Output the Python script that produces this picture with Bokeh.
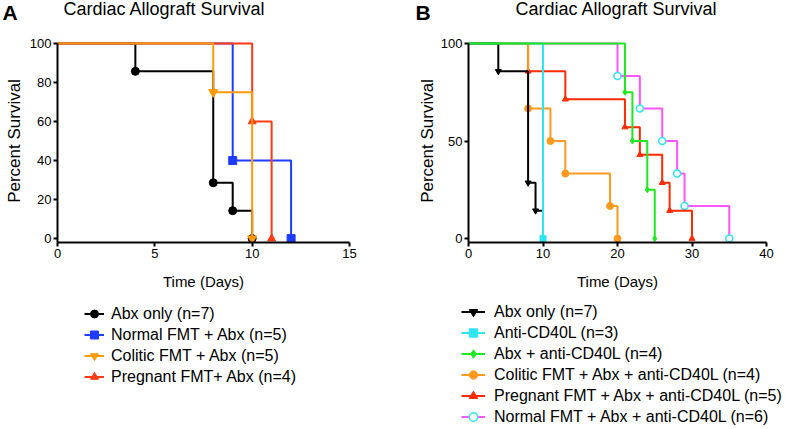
from bokeh.plotting import figure
from bokeh.models import FixedTicker, Legend, LegendItem, Label, Range1d
from bokeh.layouts import row, column
from bokeh.embed import file_html
from bokeh.resources import INLINE

FONT = "Liberation Sans"

# ---------------- Panel A data ----------------
a_xticks = [0, 5, 10, 15]
a_yticks = [0, 20, 40, 60, 80, 100]

a_abx_t = [0, 4, 8, 9, 10]
a_abx_s = [100, 85.7, 28.6, 14.3, 0]
a_normal_t = [0, 9, 12]
a_normal_s = [100, 40, 0]
a_colitic_t = [0, 8, 10]
a_colitic_s = [100, 75, 0]
a_preg_t = [0, 10, 11]
a_preg_s = [100, 60, 0]

# ---------------- Panel B data ----------------
b_xticks = [0, 10, 20, 30, 40]
b_yticks = [0, 50, 100]

b_abx_t = [0, 4, 8, 9, 10]
b_abx_s = [100, 85.7, 28.6, 14.3, 0]
b_anti_t = [0, 10]
b_anti_s = [100, 0]
b_abxanti_t = [0, 21, 22, 24, 25]
b_abxanti_s = [100, 75, 50, 25, 0]
b_col_t = [0, 8, 11, 13, 19, 20]
b_col_s = [100, 66.7, 50, 33.3, 16.7, 0]
b_preg_t = [0, 8, 13, 21, 23, 26, 27, 30]
b_preg_s = [100, 85.7, 71.4, 57.1, 42.9, 28.6, 14.3, 0]
b_norm_t = [0, 20, 23, 26, 28, 29, 35]
b_norm_s = [100, 83.3, 66.7, 50, 33.3, 16.7, 0]

title_text = "Cardiac Allograft Survival"
panel_letters = ["A", "B"]

a_labels = ["Abx only (n=7)", "Normal FMT + Abx (n=5)",
            "Colitic FMT + Abx (n=5)", "Pregnant FMT+ Abx (n=4)"]
b_labels = ["Abx only (n=7)", "Anti-CD40L (n=3)", "Abx + anti-CD40L (n=4)",
            "Colitic FMT + Abx + anti-CD40L (n=4)",
            "Pregnant FMT + Abx + anti-CD40L (n=5)",
            "Normal FMT + Abx + anti-CD40L (n=6)"]

WA, WB = 390, 395
STRIP_H = 35
PLOT_H = 259
LEG_H = 135


def blank_fig(width, height):
    p = figure(width=width, height=height, output_backend="svg", toolbar_location=None,
               x_range=Range1d(0, 1), y_range=Range1d(0, 1),
               x_axis_location=None, y_axis_location=None,
               min_border=0)
    p.outline_line_color = None
    p.xgrid.visible = False
    p.ygrid.visible = False
    return p


def plot_fig(width, left, right, xmax, xticks, yticks, ylab_size, ylab_standoff):
    p = figure(width=width, height=PLOT_H, output_backend="svg", toolbar_location=None,
               x_range=Range1d(0, xmax), y_range=Range1d(-2, 102),
               min_border_left=left, min_border_right=right,
               min_border_top=4, min_border_bottom=52)
    p.outline_line_color = None
    p.xgrid.visible = False
    p.ygrid.visible = False
    for ax in (p.xaxis[0], p.yaxis[0]):
        ax.axis_line_width = 2
        ax.axis_line_color = "black"
        ax.major_tick_line_width = 2
        ax.major_tick_line_color = "black"
        ax.major_tick_out = 4
        ax.major_tick_in = 0
        ax.minor_tick_line_color = None
        ax.major_label_text_font = FONT
        ax.major_label_text_font_size = "13px"
        ax.major_label_text_color = "black"
        ax.major_label_standoff = 2
        ax.axis_label_text_font = FONT
        ax.axis_label_text_font_style = "normal"
        ax.axis_label_text_color = "black"
    p.xaxis[0].ticker = FixedTicker(ticks=xticks)
    p.yaxis[0].ticker = FixedTicker(ticks=yticks)
    p.xaxis[0].bounds = (0, xmax)
    p.yaxis[0].bounds = (-2, 100)
    p.xaxis[0].axis_label = "Time (Days)"
    p.xaxis[0].axis_label_text_font_size = "15px"
    p.xaxis[0].axis_label_standoff = 12
    p.yaxis[0].axis_label = "Percent Survival"
    p.yaxis[0].axis_label_text_font_size = ylab_size
    p.yaxis[0].axis_label_standoff = ylab_standoff
    return p


def series(p, t, s, st, visible=True):
    ln = p.step(t, s, mode="after", line_width=2, line_color=st["color"])
    sc = p.scatter(t[1:], s[1:], marker=st["marker"], size=st["size"],
                   fill_color=st.get("fill", st["color"]),
                   line_color=st.get("mline", st["color"]), line_width=st.get("mlw", 1.0))
    ln.visible = visible
    sc.visible = visible
    return [ln, sc]


def legend_fig(width, labels, data, styles, loc, gw, standoff):
    p = blank_fig(width, LEG_H)
    items = []
    for lab, (t, s), st in zip(labels, data, styles):
        rs = series(p, t, s, st, visible=False)
        items.append(LegendItem(label=lab, renderers=rs))
    leg = Legend(items=items, location=loc, margin=0, padding=1, spacing=0,
                 label_text_font=FONT, label_text_font_size="16px", label_text_color="black",
                 glyph_width=gw, glyph_height=21, label_height=21, label_standoff=standoff,
                 background_fill_alpha=0, border_line_color=None)
    p.add_layout(leg, "center")
    return p


# styles
st_a = [dict(color="black", marker="circle", size=8),
        dict(color="#1E3CFF", marker="square", size=8),
        dict(color="#FF9A0A", marker="inverted_triangle", size=9),
        dict(color="#FF3A14", marker="triangle", size=8)]
st_b = [dict(color="black", marker="inverted_triangle", size=6),
        dict(color="#2EE6EE", marker="square", size=6),
        dict(color="#1EE81E", marker="diamond", size=6),
        dict(color="#FF9A1E", marker="circle", size=7),
        dict(color="#FF2A00", marker="triangle", size=6),
        dict(color="#FF55FF", marker="circle", size=7, fill="white", mline="#2EE6F0", mlw=1.5)]

# ---------------- top strip (panel letters + titles) ----------------
strip = blank_fig(WA + WB, STRIP_H)
for x, txt in [(2, panel_letters[0]), (415, panel_letters[1])]:
    strip.add_layout(Label(x=x, y=STRIP_H, x_units="screen", y_units="screen", text=txt,
                           text_font=FONT, text_font_size="21px", text_font_style="bold",
                           text_color="black", text_baseline="top", text_align="left"))
strip.add_layout(Label(x=63, y=STRIP_H + 2, x_units="screen", y_units="screen", text=title_text,
                       text_font=FONT, text_font_size="18px", text_color="black",
                       text_baseline="top", text_align="left"))
strip.add_layout(Label(x=616, y=STRIP_H + 2, x_units="screen", y_units="screen", text=title_text,
                       text_font=FONT, text_font_size="18px", text_color="black",
                       text_baseline="top", text_align="center"))

# ---------------- Panel A ----------------
pa = plot_fig(WA, 57, 41, 15, a_xticks, a_yticks, "17px", 3)
series(pa, a_abx_t, a_abx_s, st_a[0])
series(pa, a_normal_t, a_normal_s, st_a[1])
series(pa, a_preg_t, a_preg_s, st_a[3])
series(pa, a_colitic_t, a_colitic_s, st_a[2])

# ---------------- Panel B ----------------
pb = plot_fig(WB, 78, 19, 40, b_xticks, b_yticks, "17px", 1)
series(pb, b_norm_t, b_norm_s, st_b[5])
series(pb, b_preg_t, b_preg_s, st_b[4])
series(pb, b_col_t, b_col_s, st_b[3])
series(pb, b_abx_t, b_abx_s, st_b[0])
series(pb, b_anti_t, b_anti_s, st_b[1])
series(pb, b_abxanti_t, b_abxanti_s, st_b[2])

a_data = [(a_abx_t, a_abx_s), (a_normal_t, a_normal_s),
          (a_colitic_t, a_colitic_s), (a_preg_t, a_preg_s)]
b_data = [(b_abx_t, b_abx_s), (b_anti_t, b_anti_s), (b_abxanti_t, b_abxanti_s),
          (b_col_t, b_col_s), (b_preg_t, b_preg_s), (b_norm_t, b_norm_s)]

la = legend_fig(WA, a_labels, a_data, st_a, (84, 42), 20, 7)
lb = legend_fig(WB, b_labels, b_data, st_b, (71, 2), 24, 9)

layout = column(strip, row(pa, pb), row(la, lb))
open("out.html", "w").write(file_html(layout, INLINE))
